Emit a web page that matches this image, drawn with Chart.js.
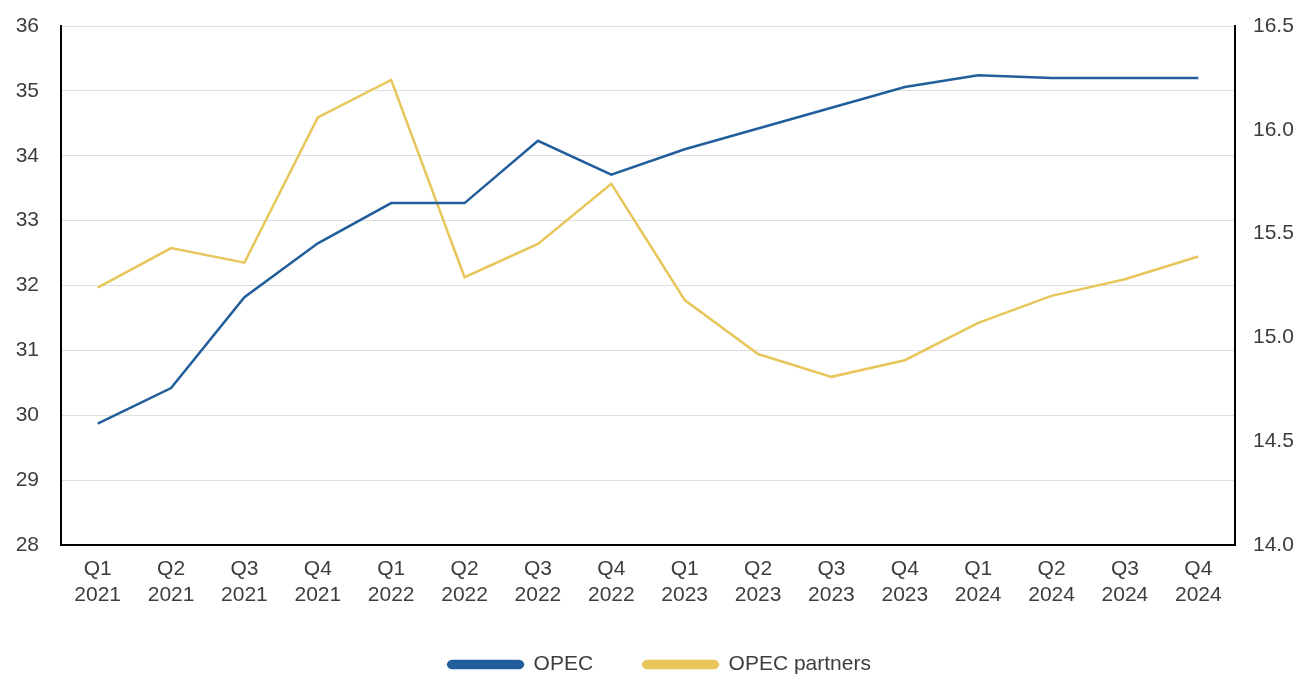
<!DOCTYPE html>
<html>
<head>
<meta charset="utf-8">
<script src="https://cdn.jsdelivr.net/npm/chart.js@4.4.1/dist/chart.umd.min.js"></script>
<style>
  html, body { margin: 0; padding: 0; background: #fff; overflow: hidden; }
  #wrap { width: 1299px; height: 685px; position: relative; }
</style>
</head>
<body>
<div id="wrap"><canvas id="chart"></canvas></div>
<script>
// quarters on the x axis (two-line labels)
const quarters = [
  ['Q1', '2021'], ['Q2', '2021'], ['Q3', '2021'], ['Q4', '2021'],
  ['Q1', '2022'], ['Q2', '2022'], ['Q3', '2022'], ['Q4', '2022'],
  ['Q1', '2023'], ['Q2', '2023'], ['Q3', '2023'], ['Q4', '2023'],
  ['Q1', '2024'], ['Q2', '2024'], ['Q3', '2024'], ['Q4', '2024']
];

// left axis
const opec = [29.87, 30.42, 31.82, 32.65, 33.27, 33.27, 34.23, 33.71,
              34.1, 34.42, 34.74, 35.06, 35.24, 35.2, 35.2, 35.2];

// right axis
const opecPartners = [15.24, 15.43, 15.36, 16.06, 16.24, 15.29, 15.45, 15.74,
                      15.18, 14.92, 14.81, 14.89, 15.07, 15.2, 15.28, 15.39];

const blue = '#215e9b';
const yellow = '#e8c65c';
const tickFont = { family: "'Liberation Sans', Arial, sans-serif", size: 21, lineHeight: 1.2 };
const tickColor = '#3d3d3d';

// legend in the source sits a little right of the canvas centre
const nudgeLegend = {
    id: 'nudgeLegend',
    afterLayout(c) { c.legend.left += 20; }
};

const ctx = document.getElementById('chart').getContext('2d');
const chart = new Chart(ctx, {
    type: 'line',
    data: {
        labels: quarters,
        datasets: [{
            label: 'OPEC',
            data: opec,
            borderColor: blue,
            backgroundColor: blue,
            borderWidth: 2.5,
            pointRadius: 0,
            tension: 0,
            yAxisID: 'y'
        },
        {
            label: 'OPEC partners',
            data: opecPartners,
            borderColor: yellow,
            backgroundColor: yellow,
            borderWidth: 2.5,
            pointRadius: 0,
            tension: 0,
            yAxisID: 'y2'
        }]
    },
    plugins: [nudgeLegend],
    options: {
        responsive: true,
        maintainAspectRatio: false,
        animation: false,
        layout: { padding: { top: 26, left: 0, right: 0, bottom: 0 } },
        plugins: {
            tooltip: { enabled: false },
            legend: {
                position: 'bottom',
                labels: {
                    font: tickFont,
                    color: tickColor,
                    boxWidth: 75,
                    boxHeight: 7,
                    useBorderRadius: true,
                    borderRadius: 4,
                    padding: 50
                }
            }
        },
        scales: {
            x: {
                offset: true,
                grid: { display: false, drawTicks: false },
                border: { display: true, color: '#000', width: 2 },
                ticks: { font: tickFont, color: tickColor, padding: 12, maxRotation: 0, autoSkip: false },
                afterFit(scale) { scale.height = 59; }
            },
            y: {
                position: 'left',
                min: 28,
                max: 36,
                grid: { color: '#dedede', lineWidth: 1, drawTicks: false },
                border: { display: true, color: '#000', width: 2 },
                ticks: { stepSize: 1, font: tickFont, color: tickColor, padding: 22 },
                afterFit(scale) { scale.width = 61; scale.paddingTop = 0; scale.paddingBottom = 0; }
            },
            y2: {
                position: 'right',
                min: 14,
                max: 16.5,
                grid: { display: false, drawTicks: false },
                border: { display: true, color: '#000', width: 2 },
                ticks: {
                    stepSize: 0.5,
                    font: tickFont,
                    color: tickColor,
                    padding: 18,
                    callback: v => v.toFixed(1)
                },
                afterFit(scale) { scale.width = 64; scale.paddingTop = 0; scale.paddingBottom = 0; }
            }
        }
    }
});
</script>
</body>
</html>
